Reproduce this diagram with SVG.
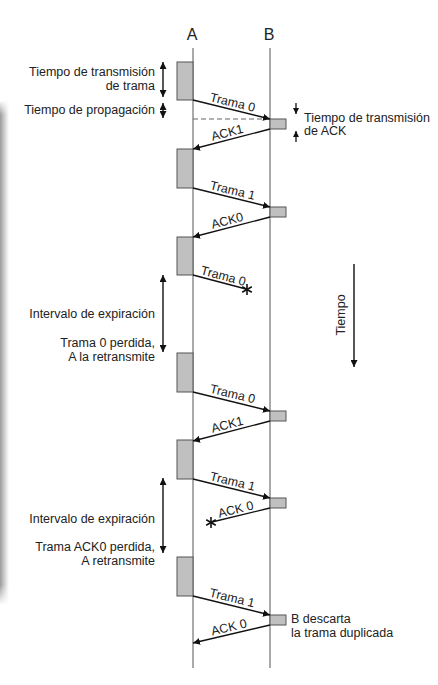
<svg xmlns="http://www.w3.org/2000/svg" width="438" height="685" viewBox="0 0 438 685">
<defs>
<linearGradient id="edge" x1="0" y1="0" x2="1" y2="0">
<stop offset="0" stop-color="#9a9a9a"/>
<stop offset="0.5" stop-color="#cfcfcf"/>
<stop offset="1" stop-color="#ffffff"/>
</linearGradient>
<linearGradient id="edgev" x1="0" y1="0" x2="0" y2="1">
<stop offset="0" stop-color="#fff" stop-opacity="1"/>
<stop offset="0.03" stop-color="#fff" stop-opacity="0"/>
<stop offset="0.96" stop-color="#fff" stop-opacity="0"/>
<stop offset="1" stop-color="#fff" stop-opacity="1"/>
</linearGradient>
<marker id="ah" viewBox="0 0 10 10" refX="10" refY="5" markerWidth="7" markerHeight="7" markerUnits="userSpaceOnUse" orient="auto-start-reverse">
<path d="M0,0 L10,5 L0,10 z" fill="#111"/>
</marker>
<marker id="ahs" viewBox="0 0 10 10" refX="10" refY="5" markerWidth="6" markerHeight="6" markerUnits="userSpaceOnUse" orient="auto-start-reverse">
<path d="M0,0 L10,5 L0,10 z" fill="#111"/>
</marker>
</defs>
<style>
text{font-family:"Liberation Sans",Arial,sans-serif;font-size:12.5px;fill:#222}
.hdr{font-size:16px}
.lbl{text-anchor:middle}
.rt{text-anchor:end}
.life{stroke:#555;stroke-width:1;fill:none}
.box{fill:#c0c0c0;stroke:#555;stroke-width:1}
.msg{stroke:#111;stroke-width:1.4;fill:none;marker-end:url(#ah)}
.lost{stroke:#111;stroke-width:1.4;fill:none}
.dim{stroke:#111;stroke-width:1.4;fill:none;marker-start:url(#ah);marker-end:url(#ah)}
.sm{stroke:#111;stroke-width:1.3;fill:none;marker-end:url(#ahs)}
.star{stroke:#111;stroke-width:1.6}
</style>
<rect x="0" y="100" width="9" height="505" rx="4" fill="url(#edge)"/>
<rect x="0" y="100" width="9" height="505" fill="url(#edgev)"/>

<g id="lifelineA"><text class="hdr lbl" x="192" y="40">A</text><line class="life" x1="193" y1="48" x2="193" y2="668"/></g>
<g id="lifelineB"><text class="hdr lbl" x="269" y="40">B</text><line class="life" x1="270" y1="48" x2="270" y2="668"/></g>

<g id="boxesA">
<rect class="box" x="177" y="62" width="16" height="38"/>
<rect class="box" x="177" y="149" width="16" height="39"/>
<rect class="box" x="177" y="237" width="16" height="38"/>
<rect class="box" x="177" y="353" width="16" height="39"/>
<rect class="box" x="177" y="440" width="16" height="39"/>
<rect class="box" x="177" y="557" width="16" height="39"/>
</g>
<g id="boxesB">
<rect class="box" x="270" y="119" width="16" height="10"/>
<rect class="box" x="270" y="207" width="16" height="10"/>
<rect class="box" x="270" y="411" width="16" height="10"/>
<rect class="box" x="270" y="498" width="16" height="10"/>
<rect class="box" x="270" y="615" width="16" height="10"/>
</g>

<g id="connectors">
<line x1="193" y1="119" x2="270" y2="119" stroke="#666" stroke-width="1" stroke-dasharray="5,3"/>
<line class="msg" x1="193" y1="100" x2="270" y2="119"/>
<line class="msg" x1="270" y1="129" x2="193" y2="149"/>
<line class="msg" x1="193" y1="188" x2="270" y2="207"/>
<line class="msg" x1="270" y1="217" x2="193" y2="237"/>
<line class="lost" x1="193" y1="275" x2="246" y2="289"/>
<line class="msg" x1="193" y1="392" x2="270" y2="411"/>
<line class="msg" x1="270" y1="421" x2="193" y2="441"/>
<line class="msg" x1="193" y1="479" x2="270" y2="498"/>
<line class="lost" x1="270" y1="508" x2="212" y2="522"/>
<line class="msg" x1="193" y1="596" x2="270" y2="615"/>
<line class="msg" x1="270" y1="625" x2="193" y2="643"/>
<line class="dim" x1="163" y1="62" x2="163" y2="97"/>
<line class="dim" x1="163" y1="103" x2="163" y2="118"/>
<line class="sm" x1="296" y1="103" x2="296" y2="114"/>
<line class="sm" x1="296" y1="142" x2="296" y2="131"/>
<line class="dim" x1="163" y1="275" x2="163" y2="352"/>
<line class="dim" x1="163" y1="478" x2="163" y2="553"/>
<line class="msg" x1="354" y1="264" x2="354" y2="367"/>
</g>

<g id="losses">
<g class="star" transform="translate(247,289.5)"><line x1="0" y1="-5.5" x2="0" y2="5.5"/><line x1="-4.8" y1="-2.8" x2="4.8" y2="2.8"/><line x1="-4.8" y1="2.8" x2="4.8" y2="-2.8"/></g>
<g class="star" transform="translate(211,522.5)"><line x1="0" y1="-5.5" x2="0" y2="5.5"/><line x1="-4.8" y1="-2.8" x2="4.8" y2="2.8"/><line x1="-4.8" y1="2.8" x2="4.8" y2="-2.8"/></g>
</g>

<g id="msglabels">
<text class="lbl" transform="translate(231,109.4) rotate(13.9)" y="-3">Trama 0</text>
<text class="lbl" transform="translate(229,139.6) rotate(-14.6)" y="-3">ACK1</text>
<text class="lbl" transform="translate(231,197.4) rotate(13.9)" y="-3">Trama 1</text>
<text class="lbl" transform="translate(229,227.6) rotate(-14.6)" y="-3">ACK0</text>
<text class="lbl" transform="translate(221.5,282.9) rotate(15)" y="-3">Trama 0</text>
<text class="lbl" transform="translate(231,400.9) rotate(13.5)" y="-3">Trama 0</text>
<text class="lbl" transform="translate(229,431.6) rotate(-14.6)" y="-3">ACK1</text>
<text class="lbl" transform="translate(231,488.4) rotate(13.9)" y="-3">Trama 1</text>
<text class="lbl" transform="translate(237.5,516.4) rotate(-14)" y="-3">ACK 0</text>
<text class="lbl" transform="translate(230.5,604.8) rotate(13.5)" y="-3">Trama 1</text>
<text class="lbl" transform="translate(230.5,634.2) rotate(-13.2)" y="-3">ACK 0</text>
</g>

<g id="notes">
<text class="rt" x="155" y="76">Tiempo de transmisión</text>
<text class="rt" x="155" y="90">de trama</text>
<text class="rt" x="155" y="114">Tiempo de propagación</text>
<text x="304" y="122">Tiempo de transmisión</text>
<text x="304" y="135">de ACK</text>
<text class="rt" x="155" y="318">Intervalo de expiración</text>
<text class="rt" x="155" y="347">Trama 0 perdida,</text>
<text class="rt" x="155" y="361">A la retransmite</text>
<text class="rt" x="155" y="523">Intervalo de expiración</text>
<text class="rt" x="155" y="551">Trama ACK0 perdida,</text>
<text class="rt" x="155" y="565">A retransmite</text>
<text x="291" y="623">B descarta</text>
<text x="291" y="637">la trama duplicada</text>
<text class="lbl" transform="translate(345,315) rotate(-90)">Tiempo</text>
</g>
</svg>
